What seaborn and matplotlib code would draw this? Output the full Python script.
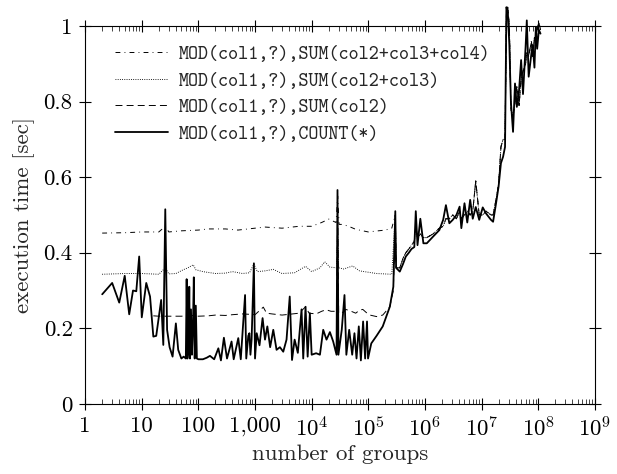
import numpy as np
import pandas as pd
import matplotlib
matplotlib.use("Agg")
import matplotlib.pyplot as plt
import seaborn as sns
from matplotlib.ticker import FixedLocator, FixedFormatter, NullLocator

# ---------------- data ----------------
count_x = [2, 3, 4, 5, 6, 7, 8, 9, 10, 12, 14, 16, 18, 22, 24, 26, 28, 31, 35, 40, 44, 50,
           55, 60, 62, 64, 67, 69, 71, 74, 77, 80, 83, 86, 90, 94, 100, 120, 140, 160, 190,
           225, 250, 282, 320, 385, 420, 506, 560, 667, 700, 760, 795, 830, 870, 955, 1000,
           1070, 1200, 1360, 1500, 1650, 1850, 2100, 2400, 2750, 3150, 3600, 4100, 4500,
           5000, 5700, 6630, 7100, 7800, 8500, 9300, 10000, 12000, 14000, 16000, 18300,
           21000, 24000, 27500, 28600, 29700, 34000, 38000, 41000, 46000, 52000, 57000,
           62000, 68000, 74000, 81000, 88000, 95000, 99000, 113000, 140000, 180000, 240000,
           277000]
count_y = [0.29, 0.32, 0.268, 0.339, 0.237, 0.30, 0.298, 0.39, 0.229, 0.32, 0.284, 0.178,
           0.18, 0.275, 0.156, 0.515, 0.196, 0.15, 0.125, 0.213, 0.143, 0.12,
           0.125, 0.12, 0.33, 0.12, 0.15, 0.31, 0.12, 0.25, 0.13, 0.20, 0.335, 0.12, 0.26,
           0.12, 0.118, 0.118, 0.122, 0.127, 0.118,
           0.147, 0.115, 0.175, 0.12, 0.165, 0.118, 0.174, 0.118, 0.288, 0.12, 0.18, 0.187,
           0.13, 0.17, 0.372, 0.12,
           0.187, 0.155, 0.227, 0.17, 0.205, 0.15, 0.196, 0.143, 0.15, 0.138, 0.17, 0.284,
           0.116, 0.17, 0.135, 0.25, 0.12, 0.257, 0.125, 0.24, 0.13, 0.134, 0.13, 0.196,
           0.17, 0.19, 0.165, 0.13, 0.566, 0.13, 0.196, 0.288, 0.13, 0.196, 0.13, 0.187,
           0.12, 0.205, 0.115, 0.218, 0.12, 0.218, 0.12, 0.16, 0.18, 0.205, 0.257, 0.31]

sum2_x = [16, 20, 30, 50, 80, 100, 150, 200, 300, 400, 600, 800, 1000, 1400, 1600, 2000,
          3000, 4000, 6000, 7800, 9000, 12000, 15000, 18000, 22000, 27500, 28800, 30000,
          34000, 40000, 50000, 60000, 70000, 80000, 95000, 107000, 140000, 180000, 240000,
          277000]
sum2_y = [0.233, 0.232, 0.232, 0.232, 0.234, 0.232, 0.233, 0.235, 0.234, 0.236, 0.238,
          0.237, 0.236, 0.256, 0.24, 0.238, 0.235, 0.237, 0.24, 0.257, 0.24, 0.238, 0.245,
          0.249, 0.245, 0.245, 0.52, 0.24, 0.24, 0.25, 0.245, 0.24, 0.248, 0.25, 0.24,
          0.235, 0.231, 0.235, 0.257, 0.30]

sum23_x = [2, 5, 10, 20, 26, 30, 40, 54, 65, 81, 90, 120, 200, 300, 400, 600, 800, 955,
           1100, 1500, 2100, 3000, 5000, 7800, 10000, 14000, 17000, 21000, 27500, 28800,
           30000, 37000, 53000, 70000, 85000, 140000, 260000]
sum23_y = [0.343, 0.345, 0.345, 0.343, 0.36, 0.344, 0.345, 0.355, 0.36, 0.368, 0.355,
           0.35, 0.345, 0.346, 0.35, 0.345, 0.347, 0.37, 0.35, 0.352, 0.356, 0.345, 0.347,
           0.364, 0.35, 0.36, 0.376, 0.362, 0.36, 0.45, 0.36, 0.357, 0.365, 0.352, 0.35,
           0.345, 0.343]

sum234_x = [2, 5, 10, 20, 26, 30, 50, 100, 150, 300, 500, 1000, 1500, 3000, 6000, 10000,
            15000, 20000, 27000, 28800, 30500, 35000, 45000, 60000, 100000, 150000, 200000,
            260000]
sum234_y = [0.452, 0.453, 0.455, 0.455, 0.47, 0.455, 0.458, 0.46, 0.463, 0.463, 0.46,
            0.465, 0.468, 0.465, 0.47, 0.47, 0.48, 0.489, 0.48, 0.55, 0.475, 0.475, 0.47,
            0.462, 0.455, 0.458, 0.46, 0.465]

# part where all four series nearly coincide (large numbers of groups)
tail_x = [300000, 310000, 360000, 410000, 460000, 520000, 580000, 650000, 690000, 740000,
          830000, 940000, 1.08e6, 1.4e6, 1.8e6, 2.1e6, 2.35e6, 2.7e6, 3.1e6, 3.6e6, 4.1e6,
          4.4e6, 5.0e6, 5.6e6, 6.3e6, 7.0e6, 7.9e6, 9.1e6, 1.05e7, 1.2e7, 1.47e7, 1.6e7,
          1.8e7, 2.0e7, 2.2e7, 2.4e7, 2.6e7, 2.75e7, 2.9e7, 3.1e7, 3.3e7, 3.6e7, 3.9e7,
          4.2e7, 4.6e7, 5.0e7, 5.4e7, 6.0e7, 6.3e7, 6.8e7, 7.6e7, 8.0e7, 8.6e7, 9.1e7,
          9.6e7, 1.03e8, 1.1e8]
tail_count_y = [0.51, 0.36, 0.35, 0.37, 0.39, 0.40, 0.41, 0.415, 0.51, 0.42,
                0.49, 0.425, 0.425, 0.443, 0.46, 0.487, 0.526, 0.478, 0.487, 0.50, 0.522,
                0.465, 0.531, 0.48, 0.54, 0.49, 0.521, 0.487, 0.52, 0.504, 0.487, 0.482,
                0.53, 0.575, 0.637, 0.654, 0.68, 1.05, 1.04, 0.95, 0.80, 0.72, 0.848,
                0.786, 0.83, 0.91, 0.82, 0.945, 1.015, 0.866, 0.928, 0.95, 0.89, 0.998,
                0.94, 0.99, 0.98]
tail_sum_y = [0.50, 0.36, 0.36, 0.385, 0.40, 0.41, 0.42, 0.43, 0.47, 0.44,
              0.45, 0.44, 0.44, 0.45, 0.465, 0.47, 0.49, 0.49, 0.50, 0.49, 0.51,
              0.49, 0.50, 0.51, 0.50, 0.51, 0.59, 0.50, 0.50, 0.51, 0.50, 0.50,
              0.54, 0.58, 0.68, 0.70, 0.70, 1.03, 1.05, 1.0, 0.78, 0.76, 0.80,
              0.84, 0.79, 0.86, 0.88, 0.90, 0.93, 0.92, 0.96, 0.92, 0.97, 0.95,
              0.99, 1.01, 0.99]

labels = ["MOD(col1,?),SUM(col2+col3+col4)",
          "MOD(col1,?),SUM(col2+col3)",
          "MOD(col1,?),SUM(col2)",
          "MOD(col1,?),COUNT(*)"]

x_ticks = [1, 10, 100, 1000, 1e4, 1e5, 1e6, 1e7, 1e8, 1e9]
x_tick_labels = ["1", "10", "100", "1,000", r"$10^{4}$", r"$10^{5}$", r"$10^{6}$",
                 r"$10^{7}$", r"$10^{8}$", r"$10^{9}$"]
y_ticks = [0, 0.2, 0.4, 0.6, 0.8, 1.0]
y_tick_labels = ["0", "0.2", "0.4", "0.6", "0.8", "1"]

# ---------------- styling ----------------
sns.set_theme(style="ticks")
plt.rcParams["font.family"] = ["cmr10", "DejaVu Serif"]
plt.rcParams["mathtext.fontset"] = "cm"
plt.rcParams["axes.formatter.use_mathtext"] = True
plt.rcParams["lines.scale_dashes"] = False
plt.rcParams["axes.edgecolor"] = "black"
plt.rcParams["axes.linewidth"] = 0.8

fig = plt.figure(figsize=(6.17, 4.74), dpi=100)
ax = fig.add_axes([0.138, 0.148, 0.964 - 0.138, 0.945 - 0.148])

series = [
    (sum234_x + tail_x, sum234_y + tail_sum_y, labels[0], (0, (3.5, 3, 0.6, 3)), 0.7),
    (sum23_x + tail_x, sum23_y + tail_sum_y, labels[1], (0, (0.6, 1.0)), 0.7),
    (sum2_x + tail_x, sum2_y + tail_sum_y, labels[2], (0, (5, 3)), 0.7),
    (count_x + tail_x, count_y + tail_count_y, labels[3], "-", 1.3),
]

for xs, ys, lab, ls, lw in series:
    df = pd.DataFrame({"groups": xs, "time": ys})
    sns.lineplot(data=df, x="groups", y="time", ax=ax, color="black", linestyle=ls,
                 linewidth=lw, label=lab, estimator=None, sort=True, clip_on=False)

ax.set_xscale("log")
ax.set_xlim(1, 1e9)
ax.set_ylim(0, 1)
ax.xaxis.set_major_locator(FixedLocator(x_ticks))
ax.xaxis.set_major_formatter(FixedFormatter(x_tick_labels))
minor = [m * 10 ** d for d in range(0, 9) for m in range(2, 10)]
ax.xaxis.set_minor_locator(FixedLocator(minor))
ax.yaxis.set_major_locator(FixedLocator(y_ticks))
ax.yaxis.set_major_formatter(FixedFormatter(y_tick_labels))
ax.yaxis.set_minor_locator(NullLocator())

ax.tick_params(which="major", direction="inout", length=8, width=0.8,
               top=True, right=True, labelsize=16.5, pad=5, colors="black")
ax.tick_params(axis="x", which="minor", direction="in", length=3.5, width=0.6,
               top=True, bottom=True)
for sp in ax.spines.values():
    sp.set_visible(True)
    sp.set_color("black")

ax.set_xlabel("number of groups", fontsize=16.5, labelpad=3)
ax.set_ylabel("execution time [sec]", fontsize=16.5, labelpad=6)

leg = ax.legend(loc="upper left", bbox_to_anchor=(0.058, 0.948), frameon=False,
                prop={"family": "cmtt10", "size": 13.8}, handlelength=2.8,
                handletextpad=0.55, labelspacing=0.42, borderaxespad=0, borderpad=0)

fig.savefig("out.png", dpi=100)
